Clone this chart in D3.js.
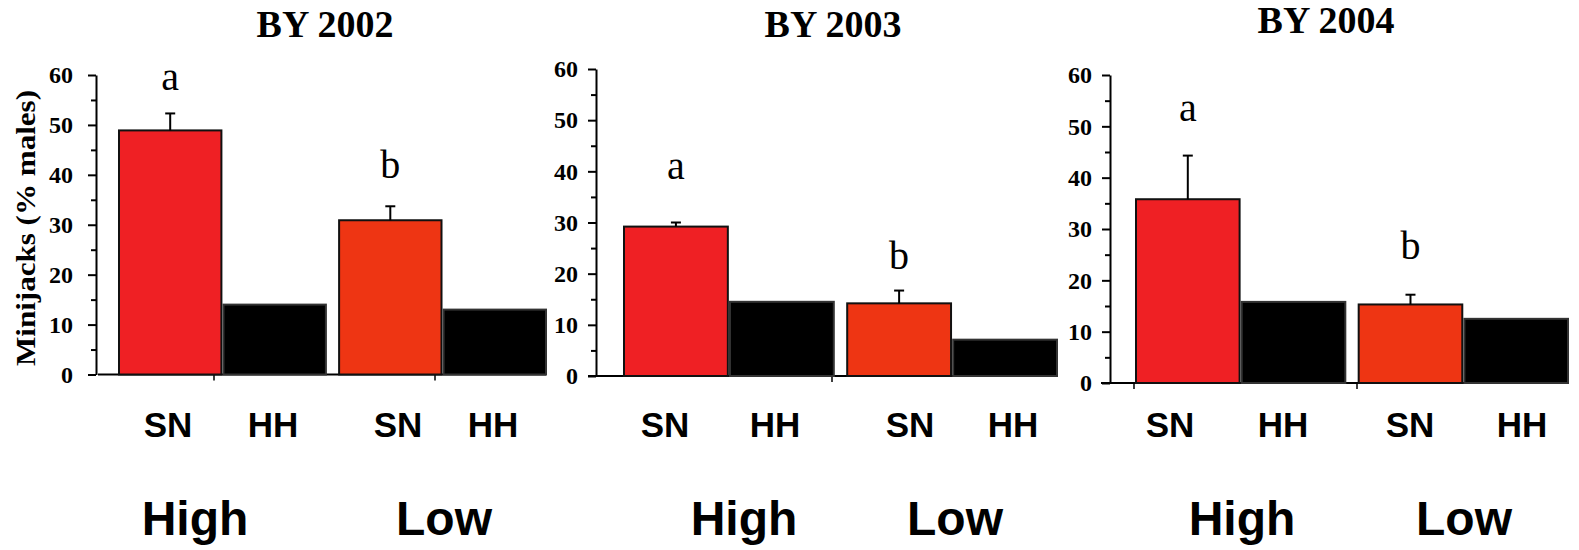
<!DOCTYPE html>
<html>
<head>
<meta charset="utf-8">
<script src="https://d3js.org/d3.v7.min.js"></script>
<style>
  body { margin: 0; background: #fff; }
  .tick line, .domain { stroke: #000; stroke-width: 2px; }
</style>
</head>
<body>
<svg width="1579" height="550"></svg>
<script>
// data
var years = ["BY 2002", "BY 2003", "BY 2004"];
var groups = ["High", "Low"];
var types = ["SN", "HH"];
var snValues = [[48.9, 30.9], [29.2, 14.2], [35.8, 15.3]];
var hhValues = [[14.0, 13.0], [14.5, 7.1], [15.8, 12.5]];
var snErrors = [[3.4, 2.8], [0.8, 2.5], [8.5, 1.9]];
var letters = [["a", "b"], ["a", "b"], ["a", "b"]];
var yTicks = [0, 10, 20, 30, 40, 50, 60];
var yMinor = [5, 15, 25, 35, 45, 55];

// layout of the three panels (pixels)
var panels = [
  { axisX: 96,   top: 75, bottom: 374.5, range: [119, 546],  titleX: 325,  titleY: 37, pad: 15, xStart: 98,
    letterGap: [23, 28], labelX: [168, 273, 398, 493], groupX: [195, 444], xTicks: [214, 435] },
  { axisX: 596,  top: 69, bottom: 376,   range: [624, 1057], titleX: 833,  titleY: 37, pad: 10, xStart: 588,
    letterGap: [44, 22], labelX: [665, 775, 910, 1013], groupX: [744, 955], xTicks: [832] },
  { axisX: 1110, top: 75, bottom: 383,   range: [1136, 1568], titleX: 1326, titleY: 33, pad: 10, xStart: 1101,
    letterGap: [35, 36], labelX: [1170, 1283, 1410, 1522], groupX: [1242, 1464], xTicks: [1134, 1357] }
];

var colors = { High: "#ef2024", Low: "#ee3513" };

var svg = d3.select("svg");

panels.forEach(function(p, i) {
  var g = svg.append("g");

  var y = d3.scaleLinear().domain([0, 60]).range([p.bottom, p.top]);
  var xGroup = d3.scaleBand().domain(groups).range(p.range).paddingInner(0.06);
  var xType = d3.scaleBand().domain(types).range([0, xGroup.bandwidth()]).paddingInner(0.02);

  // title
  g.append("text")
    .attr("x", p.titleX).attr("y", p.titleY)
    .attr("text-anchor", "middle")
    .style("font-family", "'Liberation Serif', serif")
    .style("font-weight", "bold")
    .style("font-size", "38px")
    .text(years[i]);

  // y axis: major + minor ticks
  var ya = g.append("g")
    .attr("transform", "translate(" + p.axisX + ",0)")
    .call(d3.axisLeft(y).tickValues(yTicks).tickSize(8).tickPadding(p.pad).tickSizeOuter(0));
  ya.attr("font-size", 24)
    .attr("font-family", "Liberation Serif, serif")
    .attr("font-weight", "bold");
  ya.selectAll("text").attr("fill", "#000");

  g.append("g")
    .attr("transform", "translate(" + p.axisX + ",0)")
    .call(d3.axisLeft(y).tickValues(yMinor).tickSize(5).tickFormat("").tickSizeOuter(0))
    .select(".domain").remove();

  // x axis baseline and its small ticks
  g.append("line")
    .attr("x1", p.xStart).attr("x2", p.range[1])
    .attr("y1", y(0)).attr("y2", y(0))
    .attr("stroke", "#000").attr("stroke-width", 2);
  g.selectAll(".xt").data(p.xTicks).enter().append("line")
    .attr("x1", function(d) { return d; }).attr("x2", function(d) { return d; })
    .attr("y1", y(0)).attr("y2", y(0) + 6)
    .attr("stroke", "#000").attr("stroke-width", 1.5);

  var rows = [];
  groups.forEach(function(grp, j) {
    rows.push({ group: grp, type: "SN", v: snValues[i][j], err: snErrors[i][j], letter: letters[i][j], gap: p.letterGap[j] });
    rows.push({ group: grp, type: "HH", v: hhValues[i][j] });
  });

  var bx = function(d) { return xGroup(d.group) + xType(d.type); };

  g.selectAll(".bar").data(rows).enter().append("rect")
    .attr("x", bx)
    .attr("y", function(d) { return y(d.v); })
    .attr("width", xType.bandwidth())
    .attr("height", function(d) { return y(0) - y(d.v); })
    .attr("fill", function(d) { return d.type === "SN" ? colors[d.group] : "#000"; })
    .attr("stroke", function(d) { return d.type === "SN" ? "#111" : "#333"; })
    .attr("stroke-width", 2);

  var sn = rows.filter(function(d) { return d.type === "SN"; });
  var cx = function(d) { return bx(d) + xType.bandwidth() / 2; };

  // error bars (upper only)
  g.selectAll(".eb").data(sn).enter().append("line")
    .attr("x1", cx).attr("x2", cx)
    .attr("y1", function(d) { return y(d.v); })
    .attr("y2", function(d) { return y(d.v + d.err); })
    .attr("stroke", "#000").attr("stroke-width", 2);
  g.selectAll(".cap").data(sn).enter().append("line")
    .attr("x1", function(d) { return cx(d) - 5; })
    .attr("x2", function(d) { return cx(d) + 5; })
    .attr("y1", function(d) { return y(d.v + d.err); })
    .attr("y2", function(d) { return y(d.v + d.err); })
    .attr("stroke", "#000").attr("stroke-width", 2);

  // significance letters
  g.selectAll(".let").data(sn).enter().append("text")
    .attr("x", cx)
    .attr("y", function(d) { return y(d.v + d.err) - d.gap; })
    .attr("text-anchor", "middle")
    .style("font", "40px 'Liberation Serif', serif")
    .text(function(d) { return d.letter; });

  // category labels
  var labs = [];
  groups.forEach(function(grp) { types.forEach(function(t) { labs.push(t); }); });
  g.selectAll(".lab").data(labs).enter().append("text")
    .attr("x", function(d, k) { return p.labelX[k]; })
    .attr("y", 437)
    .attr("text-anchor", "middle")
    .style("font", "bold 35px 'Liberation Sans', Arial, sans-serif")
    .text(function(d) { return d; });

  g.selectAll(".grp").data(groups).enter().append("text")
    .attr("x", function(d, k) { return p.groupX[k]; })
    .attr("y", 535)
    .attr("text-anchor", "middle")
    .style("font", "bold 48px 'Liberation Sans', Arial, sans-serif")
    .text(function(d) { return d; });
});

// y axis title on the first panel
svg.append("text")
  .attr("transform", "translate(35,228) rotate(-90)")
  .attr("text-anchor", "middle")
  .attr("textLength", 276)
  .attr("lengthAdjust", "spacingAndGlyphs")
  .style("font", "bold 28px 'Liberation Serif', serif")
  .text("Minijacks (% males)");
</script>
</body>
</html>
